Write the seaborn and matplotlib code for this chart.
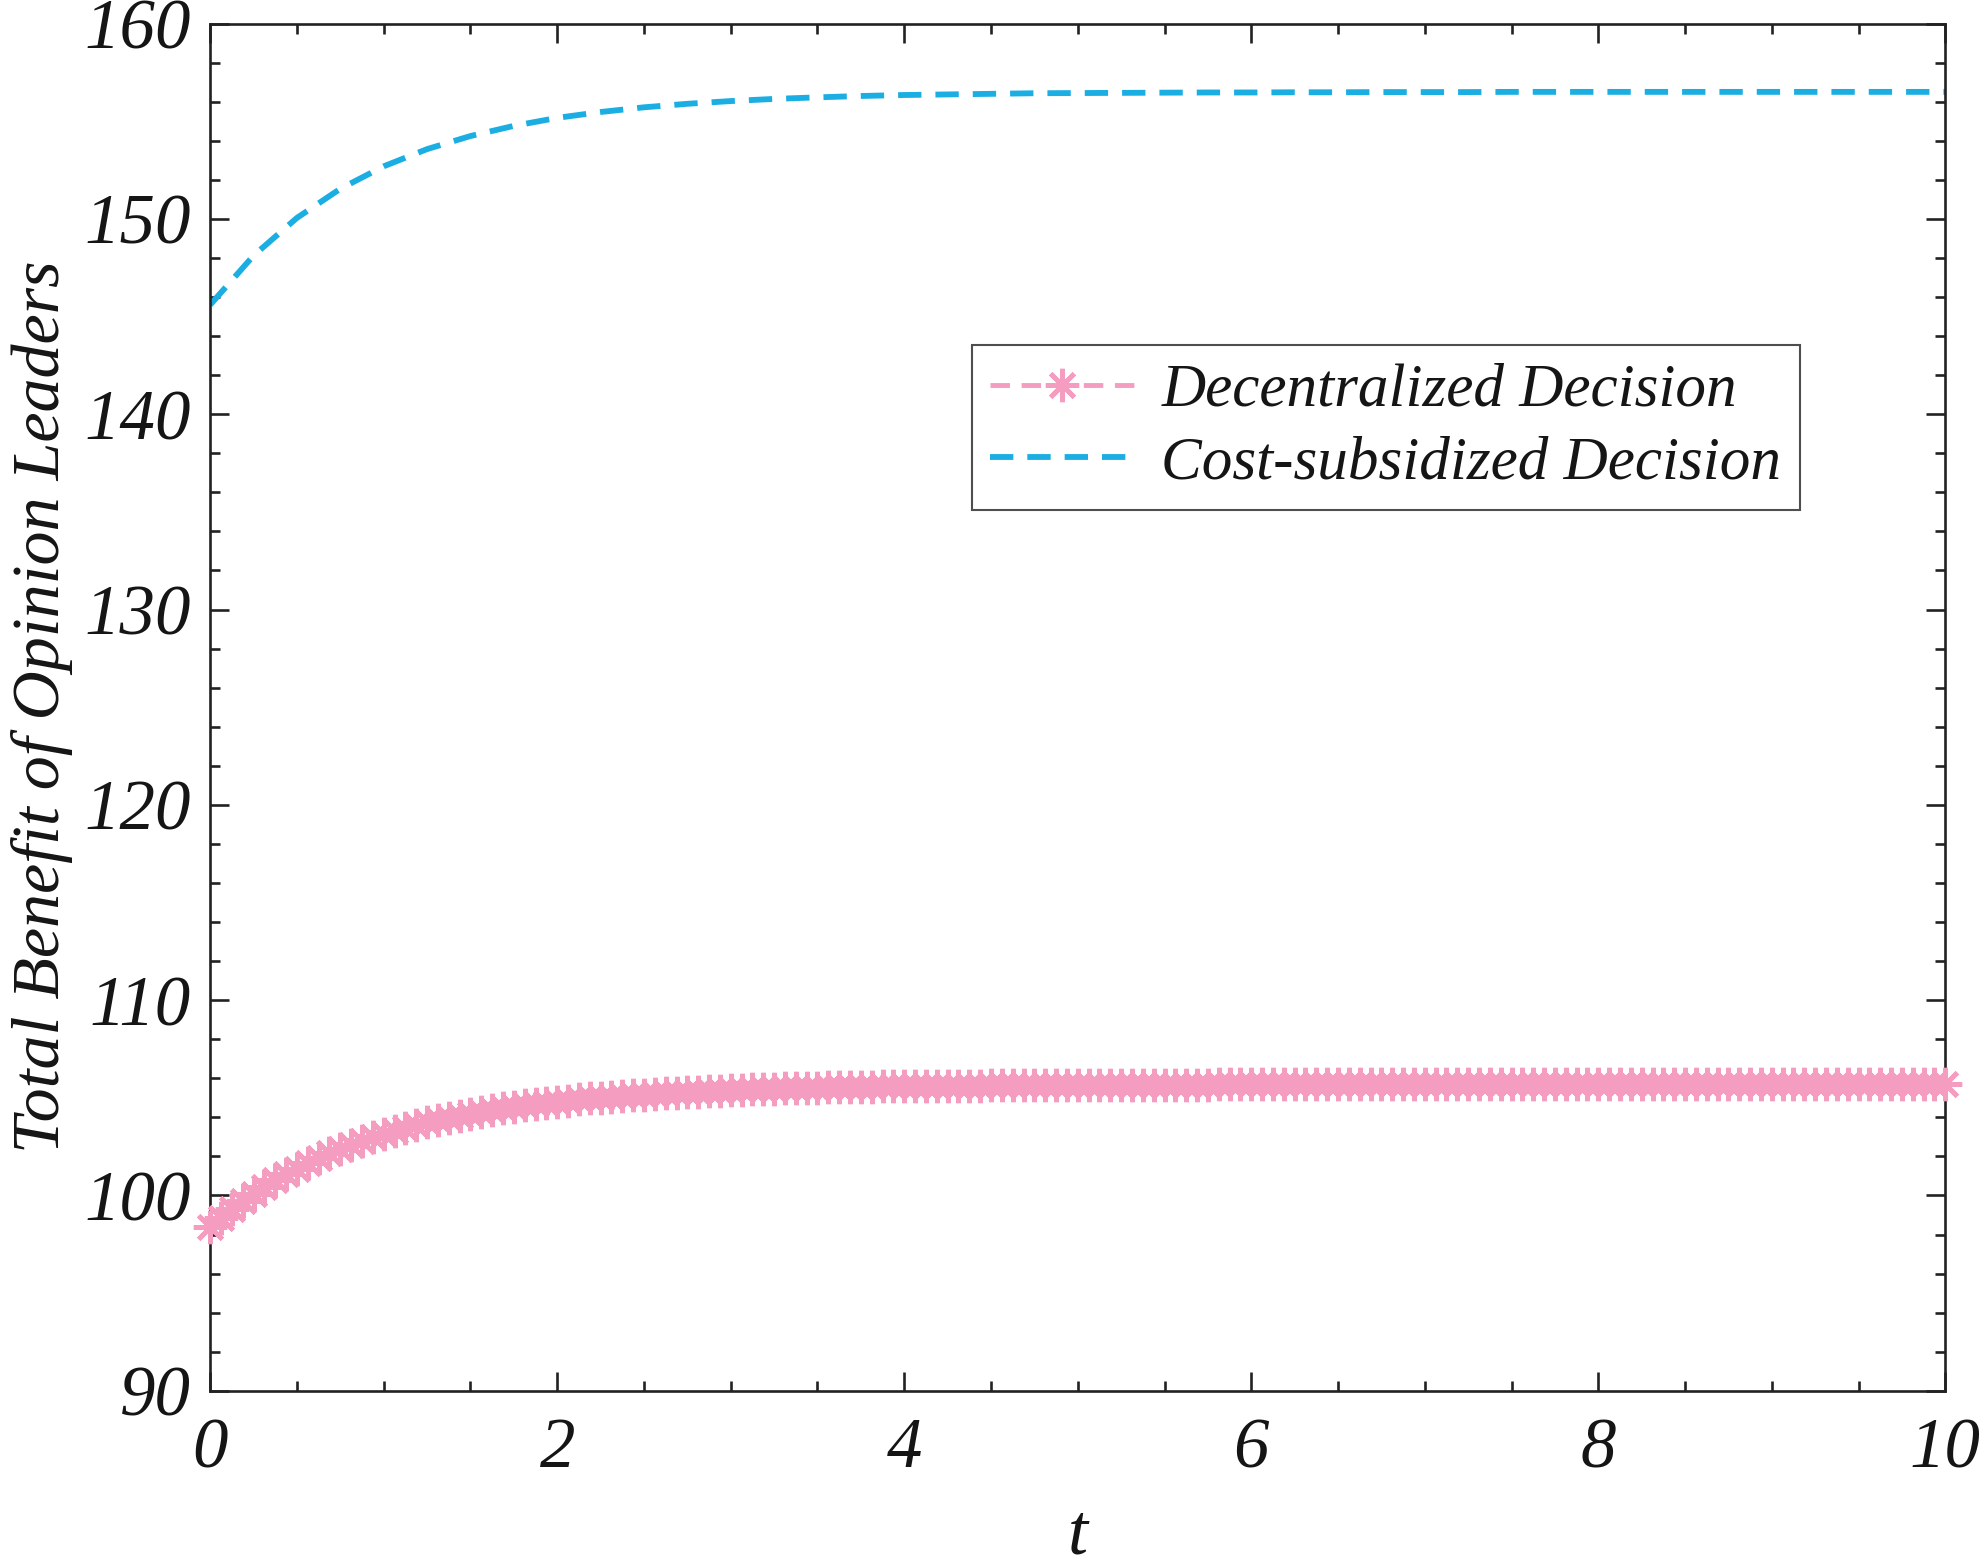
import numpy as np
import pandas as pd
import matplotlib
matplotlib.use("Agg")
import matplotlib.pyplot as plt
import seaborn as sns
from matplotlib.ticker import MultipleLocator
from matplotlib.font_manager import FontProperties

# ---------------- data ----------------
# Decentralized Decision: sampled every 1/16 time unit (t = 0 .. 10)
t_dec_step = 0.0625
dec_values = [
    98.40, 98.86, 99.30, 99.70, 100.09, 100.44, 100.78, 101.09, 101.38, 101.66,
    101.91, 102.15, 102.38, 102.59, 102.79, 102.97, 103.15, 103.31, 103.46, 103.60,
    103.74, 103.86, 103.98, 104.09, 104.19, 104.29, 104.38, 104.46, 104.54, 104.61,
    104.68, 104.75, 104.81, 104.86, 104.92, 104.97, 105.01, 105.06, 105.10, 105.14,
    105.17, 105.21, 105.24, 105.27, 105.29, 105.32, 105.34, 105.37, 105.39, 105.41,
    105.43, 105.44, 105.46, 105.48, 105.49, 105.50, 105.52, 105.53, 105.54, 105.55,
    105.56, 105.57, 105.58, 105.58, 105.59, 105.60, 105.60, 105.61, 105.62, 105.62,
    105.63, 105.63, 105.64, 105.64, 105.64, 105.65, 105.65, 105.65, 105.66, 105.66,
    105.66, 105.66, 105.67, 105.67, 105.67, 105.67, 105.67, 105.68, 105.68, 105.68,
    105.68, 105.68, 105.68, 105.69, 105.69, 105.69, 105.69, 105.69, 105.69, 105.69,
    105.69, 105.70, 105.70, 105.70, 105.70, 105.70, 105.70, 105.70, 105.70, 105.70,
    105.70, 105.70, 105.70, 105.70, 105.70, 105.70, 105.70, 105.70, 105.70, 105.70,
    105.70, 105.70, 105.70, 105.70, 105.70, 105.70, 105.70, 105.70, 105.70, 105.70,
    105.70, 105.70, 105.70, 105.70, 105.70, 105.70, 105.70, 105.70, 105.70, 105.70,
    105.70, 105.70, 105.70, 105.70, 105.70, 105.70, 105.70, 105.70, 105.70, 105.70,
    105.70, 105.70, 105.70, 105.70, 105.70, 105.70, 105.70, 105.70, 105.70, 105.70,
    105.70,
]

# Cost-subsidized Decision: sampled every 0.25 time unit (t = 0 .. 10)
t_cost_step = 0.25
cost_values = [
    145.60, 148.12, 150.05, 151.54, 152.69, 153.57, 154.24, 154.76, 155.17, 155.47,
    155.71, 155.89, 156.03, 156.14, 156.22, 156.29, 156.34, 156.37, 156.40, 156.43,
    156.44, 156.45, 156.46, 156.47, 156.47, 156.48, 156.48, 156.49, 156.49, 156.49,
    156.50, 156.50, 156.50, 156.50, 156.50, 156.50, 156.50, 156.50, 156.50, 156.50,
    156.50,
]

series_labels = ["Decentralized Decision", "Cost-subsidized Decision"]
x_ticks = [0, 2, 4, 6, 8, 10]
y_ticks = [90, 100, 110, 120, 130, 140, 150, 160]
x_label = "t"
y_label = "Total Benefit of Opinion Leaders"

t_dec = np.arange(len(dec_values)) * t_dec_step
t_cost = np.arange(len(cost_values)) * t_cost_step
df_dec = pd.DataFrame({"t": t_dec, "v": dec_values})
df_cost = pd.DataFrame({"t": t_cost, "v": cost_values})

# ---------------- style ----------------
sns.set_style("ticks")
SERIF = "Liberation Serif"
plt.rcParams["font.family"] = [SERIF, "DejaVu Serif"]
plt.rcParams["font.style"] = "italic"

def fp(size):
    return FontProperties(family=SERIF, style="italic", size=size)

pink = "#F59CC1"
blue = "#1AAEE3"
ink = "#151515"

fig = plt.figure(figsize=(19.83, 15.68), dpi=100)
ax = fig.add_axes([0.106, 0.113, 0.875, 0.872])

sns.lineplot(data=df_dec, x="t", y="v", ax=ax, color=pink, linestyle=(0, (4, 2.4)),
             linewidth=3.5, marker=(8, 2, 0), markersize=24, markeredgewidth=3.4,
             markeredgecolor=pink, label=series_labels[0], clip_on=False, zorder=3)
sns.lineplot(data=df_cost, x="t", y="v", ax=ax, color=blue, linestyle=(0, (4, 2.4)),
             linewidth=4.2, label=series_labels[1], zorder=2)

ax.set_xlim(0, 10)
ax.set_ylim(90, 160)
ax.set_xticks(x_ticks)
ax.set_yticks(y_ticks)
ax.set_xticklabels([str(v) for v in x_ticks], fontproperties=fp(51), color=ink)
ax.set_yticklabels([str(v) for v in y_ticks], fontproperties=fp(51), color=ink)
ax.xaxis.set_minor_locator(MultipleLocator(0.5))
ax.yaxis.set_minor_locator(MultipleLocator(2))

for s in ax.spines.values():
    s.set_visible(True)
    s.set_linewidth(1.9)
    s.set_color("#222222")

ax.tick_params(axis="both", which="both", direction="in", top=True, right=True,
               color="#222222")
ax.tick_params(axis="both", which="major", length=14, width=1.9)
ax.tick_params(axis="both", which="minor", length=7.5, width=1.9)
ax.tick_params(axis="x", which="major", pad=19)
ax.tick_params(axis="y", which="major", pad=14)

ax.set_xlabel(x_label, fontproperties=fp(52), labelpad=15, color=ink)
ax.set_ylabel(y_label, fontproperties=fp(49), labelpad=8, color=ink)

leg = ax.legend(loc="upper left", bbox_to_anchor=(0.439, 0.765), borderaxespad=0,
                frameon=True, fancybox=False, edgecolor="#222222",
                handlelength=2.35, handletextpad=0.45, labelspacing=0.27,
                borderpad=0.3, numpoints=1, prop=fp(44))
leg.get_frame().set_linewidth(1.5)
for tx in leg.get_texts():
    tx.set_color(ink)

fig.savefig("out.png", dpi=100, facecolor="white")
